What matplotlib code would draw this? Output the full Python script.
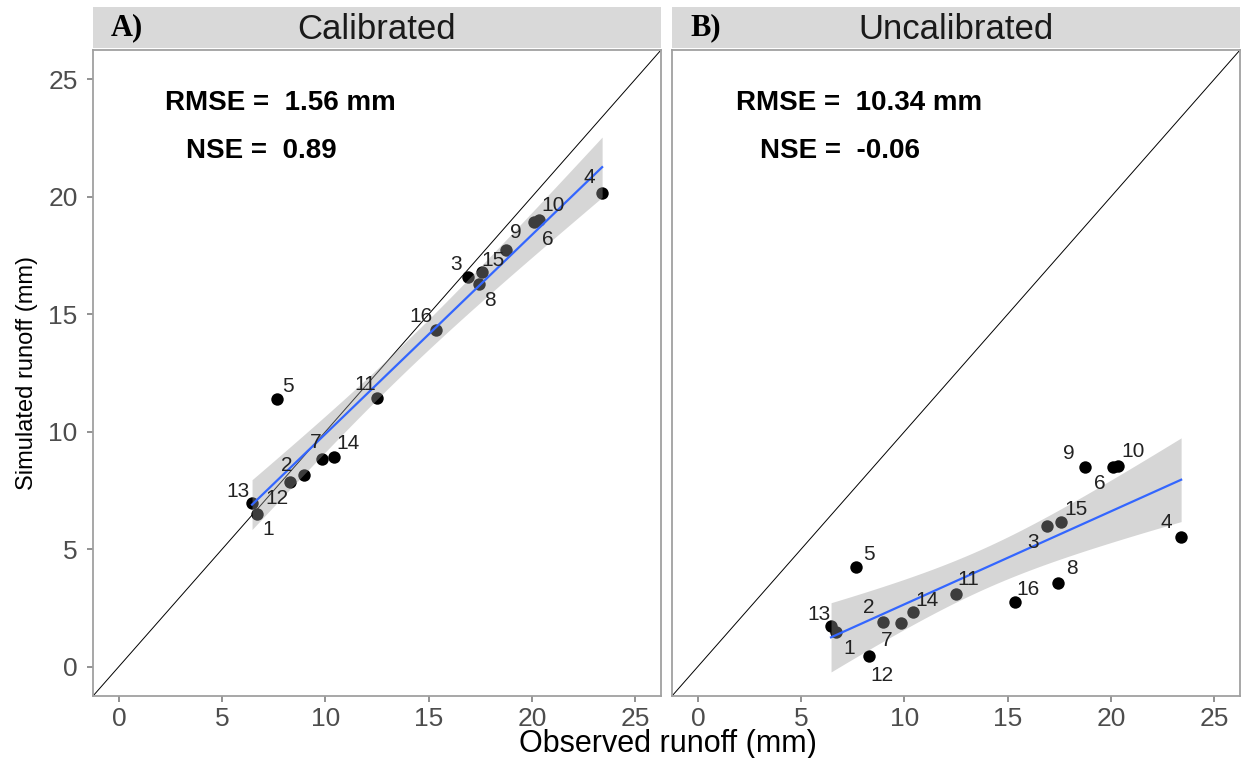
import matplotlib.pyplot as plt
import numpy as np

plt.rcParams['font.family'] = ['Liberation Sans', 'DejaVu Sans']

# station ids and runoff values (mm)
stations = ['1', '2', '3', '4', '5', '6', '7', '8', '9', '10', '11', '12', '13', '14', '15', '16']
observed = [6.7, 8.95, 16.9, 23.4, 7.65, 20.1, 9.85, 17.45, 18.75, 20.35, 12.5, 8.3, 6.45, 10.4, 17.6, 15.35]
sim_calibrated = [6.51, 8.17, 16.58, 20.17, 11.39, 18.94, 8.85, 16.3, 17.74, 19.0, 11.43, 7.84, 6.96, 8.92, 16.82, 14.31]
sim_uncalibrated = [1.46, 1.89, 6.0, 5.5, 4.23, 8.48, 1.86, 3.57, 8.48, 8.52, 3.1, 0.47, 1.72, 2.31, 6.14, 2.74]

panel_titles = ['Calibrated', 'Uncalibrated']
panel_tags = ['A)', 'B)']
rmse_values = ['1.56 mm', '10.34 mm']
nse_values = ['0.89', '-0.06']
axis_ticks = [0, 5, 10, 15, 20, 25]

# label offsets from each point, in pixels (dx, dy)
offsets_a = [(11, -16), (-17, 9), (-12, 13), (-13, 15), (11, 13), (14, -18), (-7, 16), (11, -17),
             (10, 17), (14, 15), (-12, 14), (-13, -16), (-14, 12), (14, 14), (11, 11), (-15, 14)]
offsets_b = [(13, -16), (-14, 15), (-14, -17), (-15, 15), (13, 13), (-13, -16), (-15, -18), (14, 14),
             (-16, 14), (15, 15), (12, 14), (13, -20), (-12, 12), (14, 12), (15, 13), (13, 13)]


def lm_band(x, y, n_grid=80):
    """Linear fit with a 95% confidence band, like geom_smooth(method='lm')."""
    x = np.asarray(x)
    y = np.asarray(y)
    slope, icpt = np.polyfit(x, y, 1)
    xs = np.linspace(x.min(), x.max(), n_grid)
    fit = icpt + slope * xs
    resid = y - (icpt + slope * x)
    n = len(x)
    s = np.sqrt(np.sum(resid ** 2) / (n - 2))
    se = s * np.sqrt(1 / n + (xs - x.mean()) ** 2 / np.sum((x - x.mean()) ** 2))
    t = 2.1448  # t(0.975, df=14)
    return xs, fit, fit - t * se, fit + t * se


fig = plt.figure(figsize=(12.41, 7.58), dpi=100)

W, H = 1241, 758
panels = [(93, 661), (672, 1240)]
top_px, bottom_px = 50, 696
strip_top = 7

for i, (sim, offsets) in enumerate([(sim_calibrated, offsets_a), (sim_uncalibrated, offsets_b)]):
    l, r = panels[i]
    ax = fig.add_axes([l / W, 1 - bottom_px / H, (r - l) / W, (bottom_px - top_px) / H])
    ax.set_xlim(-1.25, 26.25)
    ax.set_ylim(-1.25, 26.25)

    ax.scatter(observed, sim, s=80, color='black', zorder=2, linewidths=0)
    xs, fit, lo, hi = lm_band(observed, sim)
    ax.fill_between(xs, lo, hi, color='#999999', alpha=0.4, linewidth=0, zorder=3)
    ax.plot(xs, fit, color='#3366FF', lw=1.6, zorder=4)
    ax.axline((0, 0), slope=1, color='black', lw=0.7, zorder=1)

    for lab, xv, yv, (dx, dy) in zip(stations, observed, sim, offsets):
        ax.annotate(lab, (xv, yv), xytext=(dx, dy), textcoords='offset pixels',
                    ha='center', va='center', fontsize=15, color='#222222', zorder=5)

    ax.text(7.8, 24.0, 'RMSE =  ' + rmse_values[i], ha='center', va='center',
            fontsize=20, fontweight='bold', color='black')
    ax.text(6.9, 21.95, 'NSE =  ' + nse_values[i], ha='center', va='center',
            fontsize=20, fontweight='bold', color='black')

    ax.set_xticks(axis_ticks)
    ax.set_yticks(axis_ticks)
    ax.tick_params(colors='#7f7f7f', labelcolor='#4d4d4d', labelsize=19, length=4, width=1.2)
    ax.tick_params(axis='x', pad=4)
    ax.tick_params(axis='y', pad=7)
    if i == 1:
        ax.tick_params(axis='y', left=False, labelleft=False)
    for sp in ax.spines.values():
        sp.set_color('#a0a0a0')
        sp.set_linewidth(1.3)

    # facet strip
    sax = fig.add_axes([l / W, 1 - (top_px - 2) / H, (r - l) / W, (top_px - 2 - strip_top) / H])
    sax.set_facecolor('#d9d9d9')
    sax.set_xticks([])
    sax.set_yticks([])
    for sp in sax.spines.values():
        sp.set_visible(False)
    sax.text(0.5, 0.45, panel_titles[i], ha='center', va='center', fontsize=25,
             color='#1a1a1a', transform=sax.transAxes)
    sax.text(0.06, 0.5, panel_tags[i], ha='center', va='center', fontsize=22,
             fontweight='bold', family=['Liberation Serif', 'DejaVu Serif'],
             color='black', transform=sax.transAxes)

fig.text(27 / W, 1 - 373 / H, 'Simulated runoff (mm)', rotation=90, ha='center', va='center',
         fontsize=17, color='black')
fig.text(668 / W, 1 - 744 / H, 'Observed runoff (mm)', ha='center', va='center',
         fontsize=22, color='black')

fig.savefig('out.png', dpi=100)
